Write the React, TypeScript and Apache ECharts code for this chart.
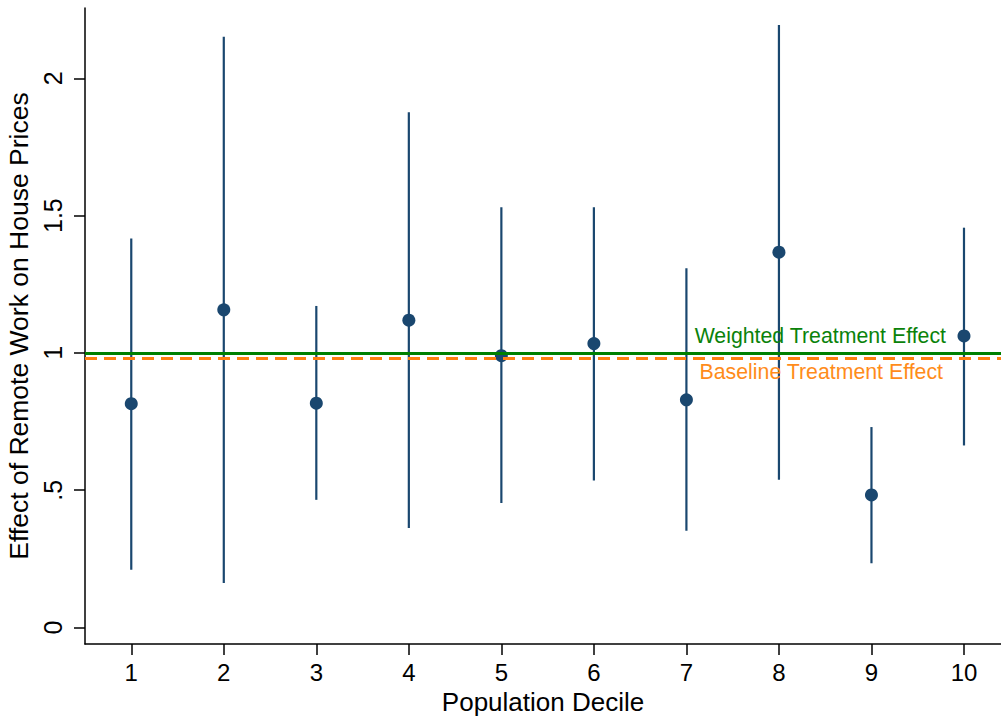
import React, { useEffect, useRef } from "react";
import * as echarts from "echarts";

const deciles = [1, 2, 3, 4, 5, 6, 7, 8, 9, 10];
const estimates = [0.815, 1.157, 0.817, 1.119, 0.99, 1.034, 0.829, 1.367, 0.483, 1.062];
const lowerCI = [0.21, 0.162, 0.465, 0.362, 0.453, 0.535, 0.352, 0.538, 0.234, 0.663];
const upperCI = [1.417, 2.151, 1.171, 1.876, 1.53, 1.53, 1.308, 2.194, 0.73, 1.456];
const yTicks = [0, 0.5, 1, 1.5, 2];
const weightedEffect = 1.0;
const baselineEffect = 0.978;

const FONT = '"Liberation Sans", Arial, Helvetica, sans-serif';
const NAVY = "#1a476f";

export default function App() {
  const ref = useRef<HTMLDivElement>(null);
  useEffect(() => {
    if (!ref.current) return;
    const chart = echarts.init(ref.current, null, { renderer: "svg" });
    chart.setOption({
      animation: false,
      backgroundColor: "#ffffff",
      textStyle: { fontFamily: FONT },
      grid: { left: 85, right: 0, top: 8, bottom: 73, containLabel: false, outerBoundsMode: "none" },
      xAxis: {
        type: "value",
        min: 0.5,
        max: 10.4,
        name: "Population Decile",
        nameLocation: "middle",
        nameGap: 40,
        nameTextStyle: { fontSize: 26, color: "#000", fontFamily: FONT },
        axisLine: { show: true, onZero: false, lineStyle: { color: "#000", width: 1.5 } },
        axisTick: { show: true, length: 11, lineStyle: { color: "#000", width: 1.5 }, customValues: deciles },
        axisLabel: { fontSize: 24, color: "#000", margin: 16, fontFamily: FONT, customValues: deciles },
        splitLine: { show: false },
      },
      yAxis: {
        type: "value",
        min: -0.06,
        max: 2.256,
        name: "Effect of Remote Work on House Prices",
        nameLocation: "middle",
        nameRotate: 90,
        nameGap: 45,
        nameTextStyle: { fontSize: 26.5, color: "#000", fontFamily: FONT },
        axisLine: { show: true, onZero: false, lineStyle: { color: "#000", width: 1.5 } },
        axisTick: { show: true, length: 11, lineStyle: { color: "#000", width: 1.5 }, customValues: yTicks },
        axisLabel: {
          fontSize: 25,
          color: "#000",
          rotate: 90,
          margin: 20,
          fontFamily: FONT,
          customValues: yTicks,
          formatter: (v: number) => (v > 0 && v < 1 ? String(v).replace(/^0/, "") : String(v)),
        },
        splitLine: { show: false },
      },
      series: [
        {
          type: "line",
          data: [],
          silent: true,
          z: 1,
          markLine: {
            silent: true,
            symbol: "none",
            data: [
              {
                yAxis: weightedEffect,
                lineStyle: { color: "#008000", width: 3, type: "solid" },
                label: {
                  show: true,
                  formatter: "Weighted Treatment Effect",
                  position: "insideEndTop",
                  color: "#0a820a",
                  fontSize: 21.3,
                  fontFamily: FONT,
                  distance: [55, 6],
                },
              },
              {
                yAxis: baselineEffect,
                lineStyle: { color: "#ff8010", width: 3, type: [12, 7] },
                label: {
                  show: true,
                  formatter: "Baseline Treatment Effect",
                  position: "insideEndBottom",
                  color: "#ff8c1a",
                  fontSize: 21.3,
                  fontFamily: FONT,
                  distance: [58, 3],
                },
              },
            ],
          },
        },
        {
          type: "custom",
          z: 3,
          data: deciles.map((d, i) => [d, lowerCI[i], upperCI[i]]),
          encode: { x: 0, y: [1, 2] },
          renderItem: (params: any, api: any) => {
            const x = api.value(0);
            const lo = api.coord([x, api.value(1)]);
            const hi = api.coord([x, api.value(2)]);
            return {
              type: "line",
              shape: { x1: lo[0], y1: lo[1], x2: hi[0], y2: hi[1] },
              style: { stroke: NAVY, lineWidth: 2.2 },
            };
          },
        },
        {
          type: "scatter",
          z: 4,
          symbol: "circle",
          symbolSize: 13,
          itemStyle: { color: NAVY, opacity: 1 },
          data: deciles.map((d, i) => [d, estimates[i]]),
        },
      ],
    });
    return () => chart.dispose();
  }, []);
  return (
    <div
      ref={ref}
      style={{ position: "fixed", left: 0, top: 0, width: 1001, height: 717, background: "#fff" }}
    />
  );
}
